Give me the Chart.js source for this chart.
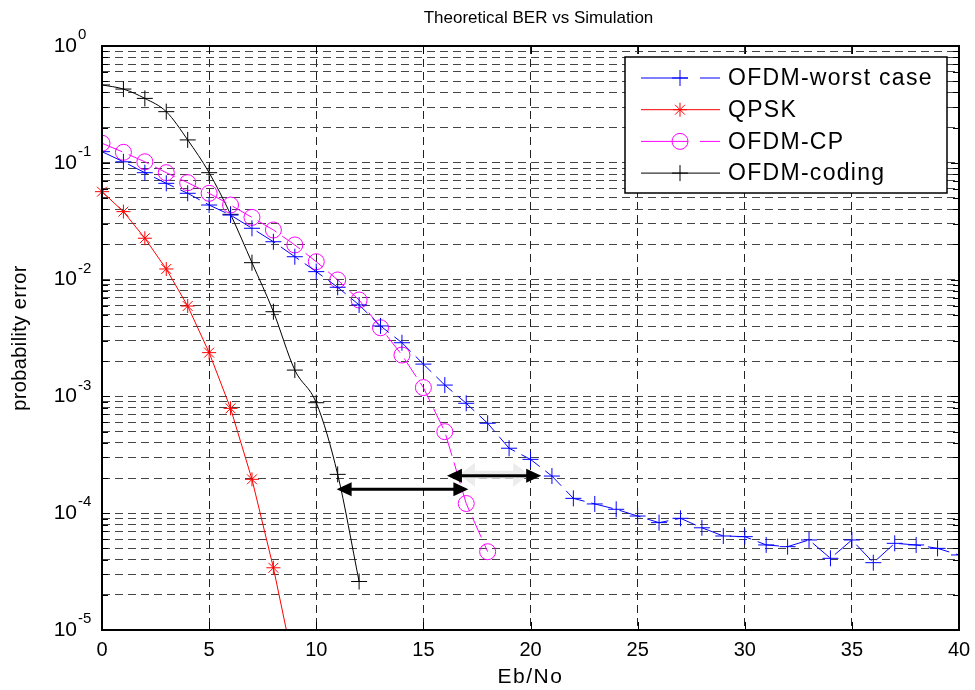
<!DOCTYPE html>
<html>
<head>
<meta charset="utf-8">
<script src="https://cdn.jsdelivr.net/npm/chart.js@4.4.1/dist/chart.umd.min.js"></script>
<style>
  body { margin: 0; background: #fff; }
</style>
</head>
<body>
<canvas id="berChart" width="975" height="690"></canvas>
<script>
// Eb/No values (dB) and BER curves
const ebno = [0,1,2,3,4,5,6,7,8,9,10,11,12,13,14,15,16,17,18,19,20,
              21,22,23,24,25,26,27,28,29,30,31,32,33,34,35,36,37,38,39,40];
const worstCase = [0.1245, 0.102, 0.0823, 0.0667, 0.0548, 0.0435, 0.0357, 0.0275, 0.0211, 0.0157,
                   0.0117, 0.0086, 0.00607, 0.00401, 0.00288, 0.00189, 0.00125, 0.000873, 0.000589, 0.00036,
                   0.000289, 0.000208, 0.000134, 0.00012, 0.000108, 9.46e-5, 8.3e-5, 9.04e-5, 7.5e-5, 6.38e-5,
                   6.3e-5, 5.35e-5, 5.17e-5, 5.9e-5, 4.11e-5, 5.9e-5, 3.77e-5, 5.52e-5, 5.35e-5, 5.0e-5, 4.39e-5];
const qpsk = [0.0566, 0.0382, 0.0226, 0.01233, 0.00594, 0.00237, 0.00079, 0.000195, 3.41e-5, 4.5e-6];
const ofdmCp = [0.147, 0.123, 0.102, 0.0823, 0.0676, 0.0548, 0.0435, 0.0341, 0.0266, 0.0198,
                0.01423, 0.00993, 0.00669, 0.00387, 0.00226, 0.00119, 0.000499, 0.000121, 4.68e-5];
const ofdmCoding = [0.464, 0.428, 0.356, 0.274, 0.157, 0.0823, 0.0362, 0.01396, 0.00531, 0.00168,
                    0.000883, 0.000215, 2.6e-5];

const xTicks = [0, 5, 10, 15, 20, 25, 30, 35, 40];
const yDecades = [-5, -4, -3, -2, -1, 0];

// the two double arrows drawn on the plot (from, to, BER level)
const arrowFrom = [10.95, 16.1];
const arrowTo = [17.1, 20.5];
const arrowLevel = [1.6e-4, 2.09e-4];

const FONT = '"Liberation Sans", Arial, sans-serif';

const pts = ys => ys.map((v, i) => ({ x: ebno[i], y: v }));

// 1..9 x 10^n for every decade -> log grid like matlab
const yTickValues = [];
yDecades.forEach(e => {
  for (let m = 1; m <= 9; m++) {
    if (e === 0 && m > 1) break;
    yTickValues.push(Number((m * Math.pow(10, e)).toPrecision(3)));
  }
});

function drawArrow(ctx, x1, x2, y, color, lw, head, half) {
  ctx.strokeStyle = color;
  ctx.fillStyle = color;
  ctx.lineWidth = lw;
  ctx.beginPath();
  ctx.moveTo(x1 + head - 2, y);
  ctx.lineTo(x2 - head + 2, y);
  ctx.stroke();
  ctx.beginPath();
  ctx.moveTo(x1, y); ctx.lineTo(x1 + head, y - half); ctx.lineTo(x1 + head, y + half); ctx.closePath();
  ctx.fill();
  ctx.beginPath();
  ctx.moveTo(x2, y); ctx.lineTo(x2 - head, y - half); ctx.lineTo(x2 - head, y + half); ctx.closePath();
  ctx.fill();
}

const decor = {
  id: 'decor',
  afterDatasetsDraw(chart) {
    const { ctx, chartArea: a, scales: { x, y } } = chart;
    ctx.save();

    // arrows
    for (let i = 0; i < arrowFrom.length; i++) {
      const x1 = x.getPixelForValue(arrowFrom[i]);
      const x2 = x.getPixelForValue(arrowTo[i]);
      const py = y.getPixelForValue(arrowLevel[i]);
      if (i === 1) drawArrow(ctx, x1 + 12, x2 - 12, py - 1, '#ececec', 8, 16, 12);
      drawArrow(ctx, x1, x2, py, '#000', 3, 15, 7);
    }

    // inner tick marks
    ctx.strokeStyle = '#000';
    ctx.lineWidth = 1;
    ctx.beginPath();
    y.ticks.forEach(t => {
      const py = Math.round(y.getPixelForValue(t.value)) + 0.5;
      const len = t.major ? 8 : 6;
      ctx.moveTo(a.left, py); ctx.lineTo(a.left + len, py);
      ctx.moveTo(a.right, py); ctx.lineTo(a.right - len, py);
    });
    xTicks.forEach(v => {
      const px = Math.round(x.getPixelForValue(v)) + 0.5;
      ctx.moveTo(px, a.bottom); ctx.lineTo(px, a.bottom - 8);
      ctx.moveTo(px, a.top); ctx.lineTo(px, a.top + 8);
    });
    ctx.stroke();

    // box
    ctx.lineWidth = 2;
    ctx.strokeRect(a.left, a.top, a.right - a.left, a.bottom - a.top);

    // tick labels
    ctx.fillStyle = '#000';
    ctx.font = '20px ' + FONT;
    ctx.textAlign = 'center';
    ctx.textBaseline = 'middle';
    xTicks.forEach(v => ctx.fillText(String(v), x.getPixelForValue(v), a.bottom + 20));

    yDecades.forEach(e => {
      const py = y.getPixelForValue(Math.pow(10, e));
      ctx.font = '21px ' + FONT;
      ctx.textAlign = 'right';
      ctx.fillText('10', a.left - 25, py);
      ctx.font = '15px ' + FONT;
      ctx.textAlign = 'left';
      ctx.fillText(String(e), a.left - 24, py - 11);
    });

    // titles
    ctx.textAlign = 'center';
    ctx.font = '17px ' + FONT;
    ctx.fillText('Theoretical BER vs Simulation', (a.left + a.right) / 2 + 8, 18);
    ctx.font = '21px ' + FONT;
    ctx.letterSpacing = '1.5px';
    ctx.fillText('Eb/No', (a.left + a.right) / 2, a.bottom + 47);
    ctx.save();
    ctx.translate(20, (a.top + a.bottom) / 2);
    ctx.rotate(-Math.PI / 2);
    ctx.font = '20px ' + FONT;
    ctx.letterSpacing = '0.4px';
    ctx.fillText('probability error', 0, 0);
    ctx.restore();

    // legend box
    const lx = a.right - 334, ly = a.top + 11, lw = 322, lh = 136;
    ctx.fillStyle = '#fff';
    ctx.fillRect(lx, ly, lw, lh);
    ctx.strokeStyle = '#000';
    ctx.lineWidth = 1.5;
    ctx.strokeRect(lx, ly, lw, lh);
    chart.data.datasets.forEach((ds, i) => {
      const ry = ly + 21 + i * 31.7;
      ctx.strokeStyle = ds.borderColor;
      ctx.lineWidth = 1;
      ctx.setLineDash(ds.borderDash ? [47, 12] : []);
      ctx.beginPath();
      ctx.moveTo(lx + 16, ry); ctx.lineTo(lx + 95, ry);
      ctx.stroke();
      ctx.setLineDash([]);
      ctx.fillStyle = 'rgba(0,0,0,0)';
      Chart.helpers.drawPoint(ctx, { pointStyle: ds.pointStyle, radius: ds.pointRadius, rotation: 0, borderWidth: 1 }, lx + 55, ry);
      ctx.fillStyle = '#000';
      ctx.font = '23px ' + FONT;
      ctx.letterSpacing = '1.3px';
      ctx.textAlign = 'left';
      ctx.fillText(ds.label, lx + 103, ry + 1);
      ctx.letterSpacing = '0px';
    });

    ctx.restore();
  }
};

const gridDash = [8, 5];

new Chart(document.getElementById('berChart'), {
  type: 'line',
  data: {
    datasets: [{
      label: 'OFDM-worst case',
      data: pts(worstCase),
      borderColor: '#0000ff',
      borderWidth: 1,
      borderDash: [22, 7],
      pointStyle: 'cross',
      pointRadius: 8,
      pointBorderColor: '#0000ff',
      pointBorderWidth: 1
    }, {
      label: 'QPSK',
      data: pts(qpsk),
      borderColor: '#ff0000',
      borderWidth: 1,
      pointStyle: 'star',
      pointRadius: 7,
      pointBorderColor: '#ff0000',
      pointBorderWidth: 1,
      clip: { left: 10, top: 10, right: 10, bottom: 0 }
    }, {
      label: 'OFDM-CP',
      data: pts(ofdmCp),
      borderColor: '#ff00ff',
      borderWidth: 1,
      borderDash: [22, 7],
      pointStyle: 'circle',
      pointRadius: 8,
      pointBackgroundColor: 'rgba(0,0,0,0)',
      pointBorderColor: '#ff00ff',
      pointBorderWidth: 1
    }, {
      label: 'OFDM-coding',
      data: pts(ofdmCoding),
      borderColor: '#000000',
      borderWidth: 1,
      cubicInterpolationMode: 'monotone',
      pointStyle: 'cross',
      pointRadius: 8,
      pointBorderColor: '#000000',
      pointBorderWidth: 1
    }]
  },
  options: {
    responsive: false,
    animation: false,
    devicePixelRatio: 1,
    layout: { padding: { left: 102, right: 16, top: 46, bottom: 60 } },
    scales: {
      x: {
        type: 'linear',
        min: 0,
        max: 40,
        afterBuildTicks: s => { s.ticks = xTicks.map(v => ({ value: v })); },
        ticks: { display: false, autoSkip: false },
        grid: { color: '#222', lineWidth: 1, drawTicks: false },
        border: { display: false, dash: gridDash }
      },
      y: {
        type: 'logarithmic',
        min: 1e-5,
        max: 1,
        afterBuildTicks: s => {
          s.ticks = yTickValues.map(v => ({ value: v, major: Math.abs(Math.log10(v) - Math.round(Math.log10(v))) < 1e-9 }));
        },
        ticks: { display: false, autoSkip: false },
        grid: { color: '#444', lineWidth: 1, drawTicks: false },
        border: { display: false, dash: gridDash }
      }
    },
    plugins: {
      legend: { display: false },
      tooltip: { enabled: false }
    }
  },
  plugins: [decor]
});
</script>
</body>
</html>
